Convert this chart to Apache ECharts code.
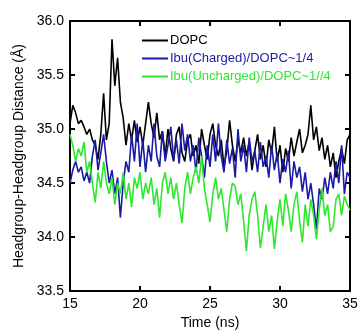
<!DOCTYPE html>
<html><head><meta charset="utf-8">
<script src="https://cdn.jsdelivr.net/npm/echarts@6/dist/echarts.min.js"></script>
<style>html,body{margin:0;padding:0;background:#fff}#c{width:361px;height:335px}</style>
</head><body><div id="c"></div>
<script>
const tStart = 15, tStep = 0.2;
const xTicks = [15, 20, 25, 30, 35];
const yTicks = [33.5, 34.0, 34.5, 35.0, 35.5, 36.0];
const seriesNames = ["DOPC", "Ibu(Charged)/DOPC~1/4", "Ibu(Uncharged)/DOPC~1//4"];
const dopc = [35.05,35.22,35.15,35.05,35.08,35.02,34.95,35.0,34.9,34.85,34.72,34.95,35.33,34.9,35.05,35.83,35.4,35.66,35.25,35.1,
34.85,35.05,34.9,35.08,34.88,35.02,34.85,35.05,35.25,35.05,34.92,35.15,34.9,34.98,34.75,35.0,34.82,34.7,34.95,35.02,
34.78,34.7,34.9,34.95,34.75,34.85,34.68,35.0,34.85,34.72,34.95,35.05,34.85,34.75,34.9,34.65,34.8,35.08,34.85,34.7,
34.9,34.78,34.92,34.75,34.88,34.62,34.8,34.95,34.72,34.85,34.65,34.9,34.78,35.02,34.7,34.85,34.6,34.82,34.7,34.92,
34.75,34.88,35.0,34.78,34.85,34.95,35.22,34.9,35.02,34.8,34.92,34.72,34.85,34.65,34.78,34.55,34.7,34.82,34.68,34.9,34.95];
const charged = [34.5,34.62,34.7,34.6,34.65,34.52,34.6,34.5,34.75,34.9,34.62,34.78,34.95,34.7,34.5,34.62,34.4,34.55,34.18,34.5,
34.7,34.6,34.95,34.7,35.05,34.65,34.9,34.6,34.85,34.7,35.05,34.75,34.65,34.98,34.7,34.85,35.02,34.72,34.9,34.68,
35.05,34.8,34.95,34.7,34.85,34.6,34.92,34.75,34.55,34.85,34.65,34.95,34.7,35.05,34.75,34.6,34.9,34.68,34.82,34.55,
35.0,34.7,34.85,34.6,34.92,34.7,34.8,34.6,34.88,34.65,34.75,34.55,34.85,34.62,34.78,34.5,34.72,34.6,34.8,34.45,
34.7,34.55,34.65,34.42,34.6,34.35,34.5,34.3,34.07,34.45,34.35,34.55,34.4,34.6,34.45,34.7,34.5,34.85,34.4,34.6,34.55];
const uncharged = [34.95,34.85,34.7,34.82,34.75,34.88,34.6,34.7,34.5,34.32,34.6,34.45,34.7,34.5,34.4,34.55,34.3,34.5,34.4,34.6,
34.35,34.5,34.28,34.55,34.45,34.6,34.35,34.5,34.4,34.55,34.3,34.45,34.18,34.5,34.6,34.4,34.55,34.35,34.5,34.3,
34.13,34.45,34.6,34.4,34.55,34.65,34.5,34.75,34.45,34.3,34.14,34.4,34.55,34.35,34.45,34.25,34.05,34.35,34.5,34.47,
34.3,34.4,34.15,33.87,34.2,34.35,34.42,34.2,33.9,34.1,34.3,34.05,34.2,33.89,34.15,34.35,34.1,34.4,34.25,34.05,
34.3,34.42,34.15,33.95,34.3,34.1,34.35,34.2,33.98,34.25,34.45,34.2,34.3,34.05,34.1,34.35,34.4,34.2,34.38,34.3,34.25];
const colors = ["#000000", "#1a1aa6", "#2ee82e"];

function toXY(arr){ return arr.map((v,i)=>[+(tStart + i*tStep).toFixed(2), v]); }
const font = "Liberation Sans, Arial, sans-serif";
const chart = echarts.init(document.getElementById('c'), null, {renderer:'canvas'});
const axisCommon = {
  axisLine:{show:true, onZero:false, lineStyle:{color:'#000', width:2}},
  axisTick:{show:true, inside:true, length:5, lineStyle:{color:'#000', width:2}},
  splitLine:{show:false}
};
chart.setOption({
  animation:false,
  backgroundColor:'#fff',
  grid:{left:70, right:11, top:21, bottom:37, containLabel:false},
  legend:{
    orient:'vertical', left:137, top:29, itemGap:5, itemWidth:26, itemHeight:2,
    icon:'rect',
    data: seriesNames.map((n,i)=>({name:n, textStyle:{color:colors[i]}})),
    textStyle:{fontFamily:font, fontSize:13, padding:[0,0,0,-3]}
  },
  xAxis:[
    Object.assign({type:'value', min:15, max:35, interval:5, position:'bottom',
      name:'Time (ns)', nameLocation:'middle', nameGap:24,
      nameTextStyle:{fontFamily:font, fontSize:14, color:'#000'},
      axisLabel:{fontFamily:font, fontSize:14, color:'#000', margin:6,
        formatter:v=>xTicks.includes(v)?String(v):''}}, axisCommon),
    Object.assign({type:'value', min:15, max:35, interval:5, position:'top', axisLabel:{show:false}}, axisCommon)
  ],
  yAxis:[
    Object.assign({type:'value', min:33.5, max:36.0, interval:0.5, position:'left',
      name:'Headgroup-Headgroup Distance (Å)', nameLocation:'middle', nameGap:43,
      nameTextStyle:{fontFamily:font, fontSize:14, color:'#000'},
      axisLabel:{fontFamily:font, fontSize:14, color:'#000', margin:6,
        formatter:v=>yTicks.some(t=>Math.abs(t-v)<1e-6)?v.toFixed(1):''}}, axisCommon),
    Object.assign({type:'value', min:33.5, max:36.0, interval:0.5, position:'right', axisLabel:{show:false}}, axisCommon)
  ],
  series:[dopc, charged, uncharged].map((arr,i)=>({
    name:seriesNames[i], type:'line', data:toXY(arr), showSymbol:false, symbol:'none',
    lineStyle:{color:colors[i], width:1.6}, itemStyle:{color:colors[i]}, z: 2 + i
  }))
});
</script></body></html>
